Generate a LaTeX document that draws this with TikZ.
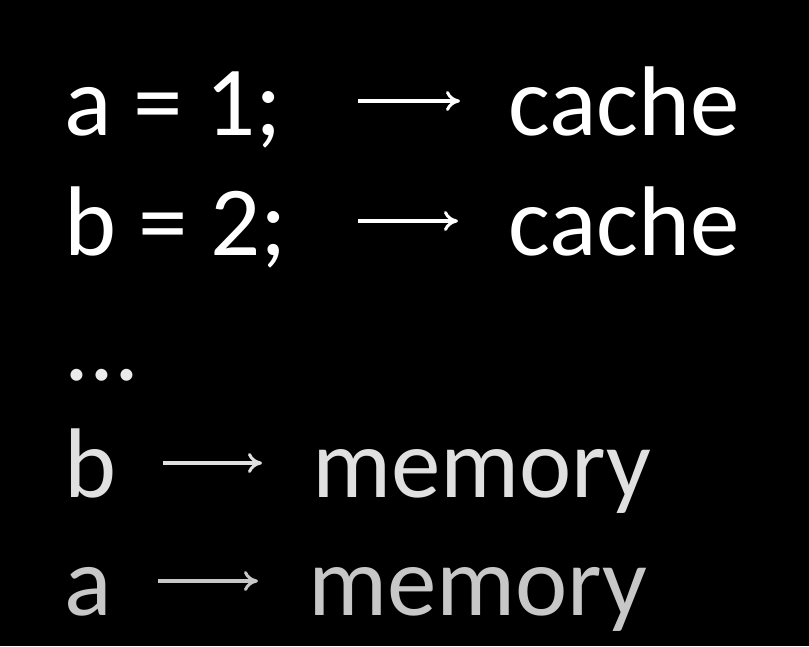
\documentclass[tikz,border=0pt]{standalone}
\usepackage{fontspec}
\setmainfont{Carlito}
\usetikzlibrary{arrows.meta}
\begin{document}
\begin{tikzpicture}[x=1pt,y=-1pt,
  txt/.style={anchor=base west,inner sep=0pt,font=\fontsize{99}{99}\selectfont},
  arr/.style={line width=4pt,-{To[length=14pt,width=20pt,line width=3pt]}}]
\fill[black] (0,0) rectangle (809,646);
\useasboundingbox (0,0) rectangle (809,646);
\node[txt,white] (a1) at (64,135) {a = 1;};
\node[txt,white] (c1) at (508,135) {cache};
\coordinate (s1) at (358,101); \coordinate (e1) at (460,101);
\draw[arr,white] (s1) -- (e1);
\node[txt,white] (b2) at (64,255) {b = 2;};
\node[txt,white] (c2) at (508,255) {cache};
\coordinate (s2) at (358,221); \coordinate (e2) at (458,221);
\draw[arr,white] (s2) -- (e2);
\node[txt,white!92!black] (dots) at (64,380) {...};
\node[txt,white!88!black] (b4) at (64,497) {b};
\node[txt,white!88!black] (m4) at (312,497) {memory};
\coordinate (s4) at (163,463); \coordinate (e4) at (262,463);
\draw[arr,white!88!black] (s4) -- (e4);
\node[txt,white!78!black] (a5) at (64,615) {a};
\node[txt,white!78!black] (m5) at (308,615) {memory};
\coordinate (s5) at (158,581); \coordinate (e5) at (258,581);
\draw[arr,white!78!black] (s5) -- (e5);
\end{tikzpicture}
\end{document}
